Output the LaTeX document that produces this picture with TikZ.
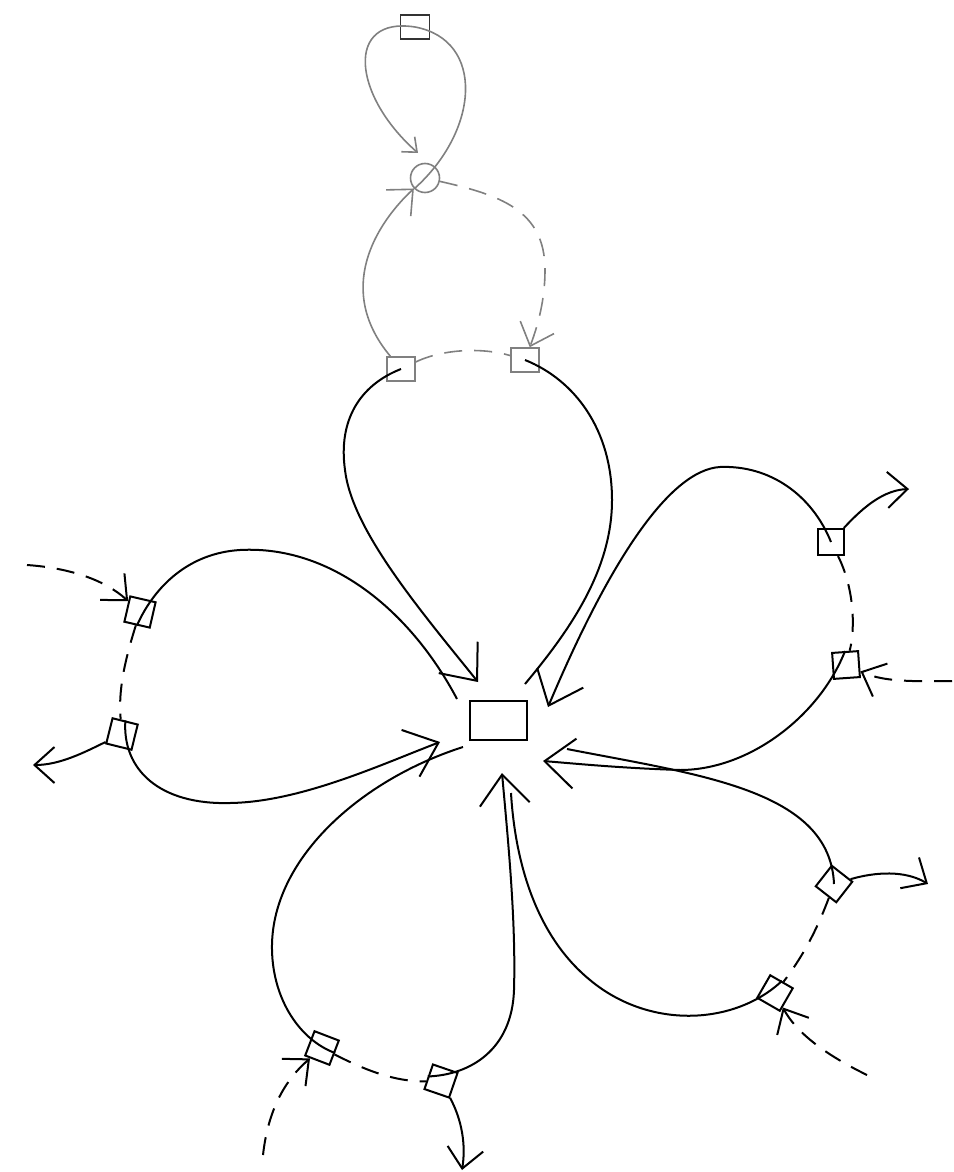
\documentclass[tikz,border=0pt]{standalone}
\usepackage{tikz}
\usetikzlibrary{arrows.meta}
\definecolor{linkgray}{RGB}{128,128,128}
\tikzset{
    petal/.style={
        line width=1pt,
        black
    },
    grayline/.style={
        line width=0.8pt,
        linkgray
    },
    % dashed links between the little boxes
    dashlink/.style={
        line width=1pt,
        dash pattern=on 9pt off 6pt
    },
    bigtip/.style={-{Straight Barb[length=15pt, width=25pt]}},
    smalltip/.style={-{Straight Barb[length=10pt, width=18pt]}},
    tinytip/.style={-{Straight Barb[length=6pt, width=10pt]}},
    sqbox/.style={
        draw,
        line width=1pt,
        inner sep=0pt,
        minimum width=13pt,
        minimum height=13pt
    }
}

\begin{document}
\begin{tikzpicture}[x=0.5pt, y=-0.5pt]
    \useasboundingbox (0,0) rectangle (953,1172);

    \node[draw, line width=1pt, inner sep=0pt, minimum width=28.5pt, minimum height=19.5pt] (hub) at (498.5,720) {};

    % ends near the hub
    \coordinate (e1) at (478,682);
    \coordinate (f1) at (525,684);
    \coordinate (e2a) at (548,707);
    \coordinate (e2b) at (543,761);
    \coordinate (f3a) at (567,749);
    \coordinate (f3b) at (511,793);
    \coordinate (e4) at (502,773);
    \coordinate (f4) at (463,747);
    \coordinate (e5) at (440,742);
    \coordinate (f5) at (457,699);

    % free outer ends
    \coordinate (o2) at (909,489);
    \coordinate (i2) at (952,681);
    \coordinate (o3) at (928,884);
    \coordinate (i3) at (867,1075);
    \coordinate (o4) at (462,1170);
    \coordinate (i4) at (263,1155);
    \coordinate (o5) at (33,765);
    \coordinate (i5) at (27,565);
    \coordinate (t1) at (418,153);

    \node[sqbox, draw=linkgray, line width=0.8pt, minimum width=14pt, minimum height=12pt] (p1a) at (401,369) {};
    \node[sqbox, draw=linkgray, line width=0.8pt, minimum width=14pt, minimum height=12pt] (p1b) at (525,360) {};
    \node[sqbox] (p2a) at (831,542) {};
    \node[sqbox, rotate=4] (p2b) at (846,665) {};
    \node[sqbox, rotate=-38] (p3a) at (834,884) {};
    \node[sqbox, rotate=-30] (p3b) at (775,993) {};
    \node[sqbox, rotate=-21] (p4a) at (322,1048) {};
    \node[sqbox, rotate=-19] (p4b) at (441,1081) {};
    \node[sqbox, rotate=-13] (p5a) at (140,612) {};
    \node[sqbox, rotate=-14] (p5b) at (122,734) {};

    \node[sqbox, draw=black!80, line width=0.8pt, minimum width=14.5pt, minimum height=12pt] (top) at (415,27) {};
    \node[draw=linkgray, line width=0.8pt, circle, inner sep=0pt, minimum size=14.5pt] (ring) at (425,178) {};

    % petals
    \draw[petal, bigtip] (p1a.center) .. controls (360,385) and (338,420) .. (345,470) .. controls (352,530) and (420,610) .. (e1);
    \draw[petal] (p1b.center) .. controls (575,380) and (612,430) .. (612,500) .. controls (612,570) and (570,630) .. (f1);

    \draw[petal, bigtip] (p2a.center) .. controls (812,495) and (770,465) .. (720,467) .. controls (670,470) and (610,560) .. (e2a);
    \draw[petal, bigtip] (p2b.north) .. controls (820,715) and (750,770) .. (680,770) .. controls (620,768) and (580,764) .. (e2b);

    \draw[petal] (f3a) .. controls (700,775) and (830,790) .. (p3a.center);
    \draw[petal] (p3b.north) .. controls (735,1025) and (650,1030) .. (590,980) .. controls (535,935) and (515,860) .. (f3b);

    \draw[petal, bigtip] (p4b.west) .. controls (470,1075) and (512,1050) .. (514,990) .. controls (516,920) and (508,840) .. (e4);
    \draw[petal] (f4) .. controls (360,780) and (270,860) .. (272,950) .. controls (273,1000) and (300,1040) .. (p4a.east);

    \draw[petal] (f5) .. controls (410,610) and (330,545) .. (240,550) .. controls (190,553) and (155,585) .. (p5a.south);
    \draw[petal, bigtip] (p5b.north) .. controls (122,770) and (160,805) .. (230,803) .. controls (300,802) and (380,765) .. (e5);

    % dashed links
    \draw[dashlink] (p2a) .. controls (855,590) and (855,630) .. (p2b);
    \draw[dashlink] (p3a) .. controls (815,935) and (800,960) .. (p3b);
    \draw[dashlink] (p4a) .. controls (365,1070) and (395,1082) .. (p4b);
    \draw[dashlink] (p5a) .. controls (125,660) and (118,690) .. (p5b);

    \draw[dashlink, smalltip] (i2) .. controls (900,682) and (880,680) .. (p2b);
    \draw[dashlink, smalltip] (i3) .. controls (820,1052) and (795,1030) .. (p3b);
    \draw[dashlink, smalltip] (i4) .. controls (268,1110) and (285,1080) .. (p4a);
    \draw[dashlink, smalltip] (i5) .. controls (70,568) and (105,580) .. (p5a);

    \draw[petal, smalltip] (p2a) .. controls (865,505) and (885,490) .. (o2);
    \draw[petal, smalltip] (p3a) .. controls (875,872) and (905,870) .. (o3);
    \draw[petal, smalltip] (p4b) .. controls (462,1120) and (466,1145) .. (o4);
    \draw[petal, smalltip] (p5b) .. controls (85,752) and (60,765) .. (o5);

    % gray part on top
    \draw[grayline, smalltip] (p1a) .. controls (335,290) and (375,225) .. (ring);
    \draw[grayline, tinytip] (ring.225) .. controls (480,130) and (485,40) .. (top.center) .. controls (345,16) and (352,95) .. (t1);
    \draw[grayline, dash pattern=on 9pt off 6pt, smalltip] (ring) .. controls (500,195) and (545,210) .. (545,270) .. controls (545,300) and (538,325) .. (p1b);
    \draw[grayline, dash pattern=on 9pt off 6pt] (p1a) .. controls (445,348) and (485,348) .. (p1b);
\end{tikzpicture}
\end{document}
